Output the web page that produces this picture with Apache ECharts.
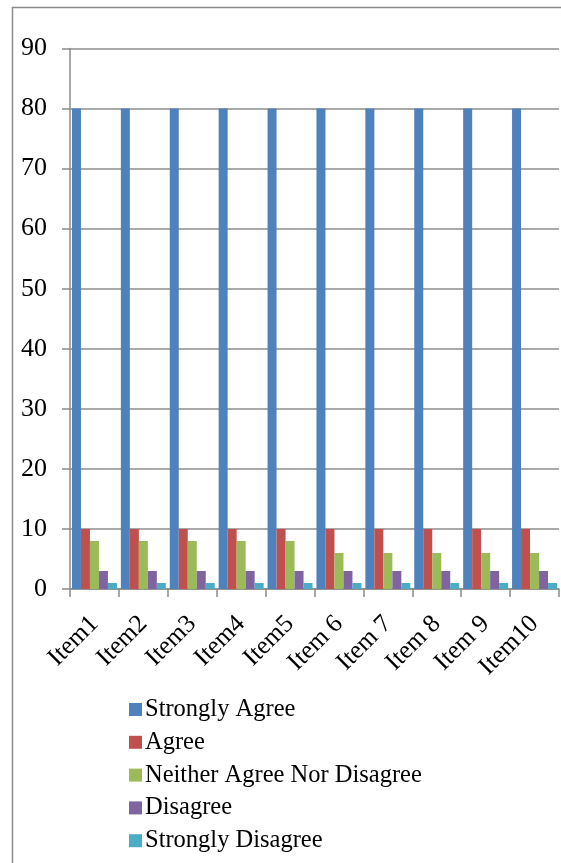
<!DOCTYPE html>
<html>
<head>
<meta charset="utf-8">
<script src="https://cdn.jsdelivr.net/npm/echarts@6/dist/echarts.min.js"></script>
<style>
html,body{margin:0;padding:0;background:#fff;}
#chart{width:561px;height:863px;}
</style>
</head>
<body>
<div id="chart"></div>
<script>
const categories = ['Item1','Item2','Item3','Item4','Item5','Item 6','Item 7','Item 8','Item 9','Item10'];
const stronglyAgree = [80,80,80,80,80,80,80,80,80,80];
const agree = [10,10,10,10,10,10,10,10,10,10];
const neither = [8,8,8,8,8,6,6,6,6,6];
const disagree = [3,3,3,3,3,3,3,3,3,3];
const stronglyDisagree = [1,1,1,1,1,1,1,1,1,1];
const seriesNames = ['Strongly Agree','Agree','Neither Agree Nor Disagree','Disagree','Strongly Disagree'];
const seriesData = [stronglyAgree, agree, neither, disagree, stronglyDisagree];
const colors = ['#4F81BD','#C0504D','#9BBB59','#8064A2','#4BACC6'];

const font = "'Liberation Serif','Times New Roman',serif";
const chart = echarts.init(document.getElementById('chart'));
chart.setOption({
  animation:false,
  color: colors,
  graphic:[{type:'rect',shape:{x:12.5,y:7.5,width:700,height:1000},style:{fill:'none',stroke:'#8c8c8c',lineWidth:1.5},silent:true}],
  grid:{left:70,right:2,top:48.5,bottom:274,containLabel:false},
  legend:{
    orient:'vertical',left:124,top:692,itemWidth:13,itemHeight:13,itemGap:7.8,
    icon:'rect',
    textStyle:{fontFamily:font,fontSize:24.5,color:'#000',padding:[0,0,0,-2]},
    data: seriesNames
  },
  xAxis:{
    type:'category',data:categories,
    axisLine:{lineStyle:{color:'#8c8c8c',width:1.5}},
    axisTick:{show:true,length:8,lineStyle:{color:'#8c8c8c',width:1.5}},
    axisLabel:{rotate:45,margin:31,fontFamily:font,fontSize:25.5,color:'#000',interval:0}
  },
  yAxis:{
    type:'value',min:0,max:90,interval:10,
    axisLine:{show:true,lineStyle:{color:'#8c8c8c',width:1.5}},
    axisTick:{show:true,length:8,lineStyle:{color:'#8c8c8c',width:1.5}},
    splitLine:{lineStyle:{color:'#8c8c8c',width:1.5}},
    axisLabel:{margin:23,fontFamily:font,fontSize:26,color:'#000'}
  },
  series: seriesNames.map((n,i)=>({
    name:n,type:'bar',data:seriesData[i],barGap:'0%',barCategoryGap:'8%'
  }))
});
</script>
</body>
</html>
